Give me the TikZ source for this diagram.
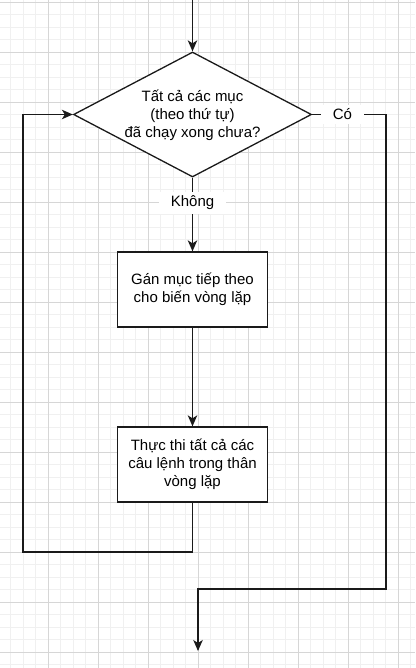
\documentclass[tikz,border=0pt]{standalone}
\usepackage{fontspec}
\setmainfont{Liberation Sans}
\usetikzlibrary{shapes.geometric,arrows.meta,calc}
\definecolor{minorgrid}{HTML}{F0F0F0}
\definecolor{majorgrid}{HTML}{D6D6D6}
\definecolor{edge}{HTML}{1A1A1A}
\tikzset{
  procbox/.style={draw=edge, line width=1.3pt, fill=white, minimum width=150pt, minimum height=75pt, inner sep=0pt, align=center},
  decbox/.style={draw=edge, line width=1.3pt, fill=white, diamond, minimum width=238pt, minimum height=125pt, inner sep=0pt},
  txt/.style={align=center, font=\fontsize{15}{18}\selectfont},
  conn/.style={draw=edge, line width=1.3pt},
  arr/.style={conn, -{Stealth[length=11pt,width=9.5pt,inset=3pt]}},
  lbl/.style={fill=white, inner xsep=12pt, inner ysep=4pt, font=\fontsize{15}{18}\selectfont}
}
\begin{document}
\begin{tikzpicture}[x=1pt,y=-1pt]
\useasboundingbox (0,0) rectangle (415,668);
\fill[white] (0,0) rectangle (415,668);
% grid
\foreach \i in {0,...,33} {
  \draw[minorgrid, line width=1pt] ({10.8+12.5*\i},0) -- ({10.8+12.5*\i},668);
}
\foreach \i in {0,...,53} {
  \draw[minorgrid, line width=1pt] (0,{2.3+12.5*\i}) -- (415,{2.3+12.5*\i});
}
\foreach \i in {0,...,8} {
  \draw[majorgrid, line width=1pt] ({48.3+50*\i},0) -- ({48.3+50*\i},668);
}
\foreach \i in {0,...,13} {
  \draw[majorgrid, line width=1pt] (0,{2.3+50*\i}) -- (415,{2.3+50*\i});
}
% nodes
\node[decbox] (dec) at (192.5,114.5) {};
\node[txt] (dectext) at (192.5,115) {Tất cả các mục\\(theo thứ tự)\\đã chạy xong chưa?};
\node[procbox, txt] (b1) at (192.5,289.5) {Gán mục tiếp theo\\cho biến vòng lặp};
\node[procbox, txt] (b2) at (192.5,464.5) {Thực thi tất cả các\\câu lệnh trong thân\\vòng lặp};
\coordinate (start) at (192.5,0);
\coordinate (lb) at (23,552);
\coordinate (cr) at (386,114.5);
\coordinate (cb) at (386,589);
\coordinate (ce) at (198,651);
% connectors
\draw[arr] (start) -- (dec.north);
\draw[arr] (dec.south) -- node[lbl, pos=0.34] {Không} (b1.north);
\draw[arr] (b1.south) -- (b2.north);
\draw[arr] (b2.south) |- (lb) |- (dec.west);
\draw[arr] (dec.east) -- node[lbl, pos=0.41] {Có} (cr) -- (cb) -| (ce);
\end{tikzpicture}
\end{document}
